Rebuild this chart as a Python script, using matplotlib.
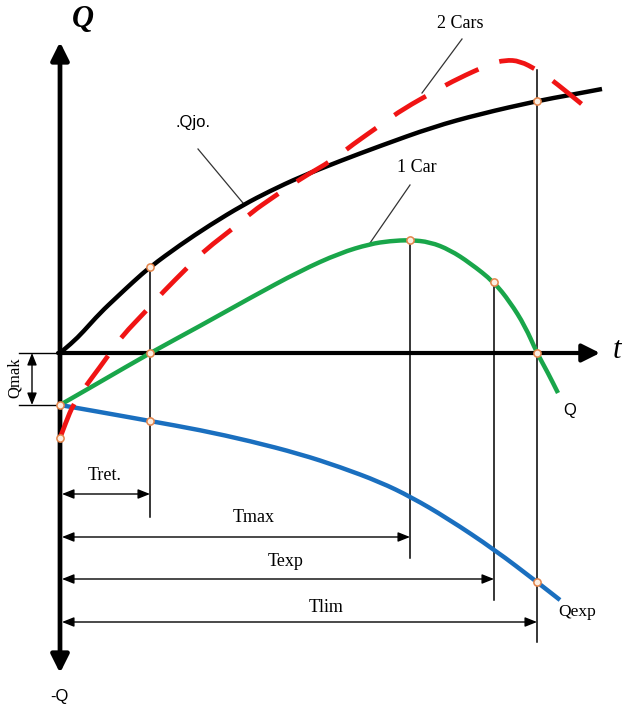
import matplotlib
matplotlib.use("Agg")
import matplotlib.pyplot as plt
from matplotlib.patches import FancyArrowPatch, PathPatch
from matplotlib.path import Path

plt.rcParams['lines.scale_dashes'] = False

# ---------------- data (schematic units, origin at axis crossing) ----------------
qjo_x = [0, 12, 23, 40, 57, 73, 90, 120, 150, 183, 210, 240, 280, 320, 373, 420, 477, 510, 542]
qjo_y = [0, 10, 21, 40, 56, 71, 86, 108, 128, 148, 162, 176, 192, 207, 226, 239, 252, 258, 264]

cars2_x = [0, 6, 13, 25, 40, 50, 62, 87, 102, 128, 145, 175, 192, 212, 240, 273, 292, 322, 343,
           377, 397, 430, 445, 460, 477, 488, 507, 535]
cars2_y = [-85, -69, -52, -34, -14, 0, 17, 43, 60, 86, 103, 126, 141, 155, 174, 193, 208, 229, 244,
           263, 274, 289, 293, 292, 283, 276, 261, 238]

car1_x = [0, 40, 90, 140, 190, 240, 280, 310, 330, 350, 370, 390, 410, 434, 450, 465, 477, 488, 498]
car1_y = [-52, -29, 0, 27, 55, 82, 100, 109, 112, 113, 111, 103, 90, 71, 51, 27, 0, -20, -40]

qexp_x = [0, 40, 90, 140, 190, 240, 280, 320, 351, 387, 435, 477, 500]
qexp_y = [-52, -59, -68, -77, -88, -101, -114, -129, -144, -165, -197, -229, -247]

key_x = [90, 90, 90, 0, 0, 350, 434, 477, 477, 477]
key_y = [86, 0, -68, -52, -85, 113, 71, 0, 252, -229]

t_names = ["Tret.", "Tmax", "Texp", "Tlim"]
t_vals = [90, 350, 434, 477]
t_line_top = [86, 113, 71, 283]
t_line_bot = [-164, -205, -247, -289]
t_arrow_y = [-141, -184, -226, -269]
t_label_pos = [(45, -123), (194, -165), (226, -209), (266, -255)]

q_mak = -52

# ---------------- figure ----------------
fig = plt.figure(figsize=(6.27, 7.09), dpi=100)
ax = fig.add_axes([0, 0, 1, 1])
ax.set_xlim(-60, 567)
ax.set_ylim(-356, 353)
ax.axis('off')

serif = 'Liberation Serif'
sans = 'Liberation Sans'


def arrow(p0, p1, style, lw, ms, color='black', z=3):
    a = FancyArrowPatch(p0, p1, arrowstyle=style, lw=lw, color=color,
                        mutation_scale=ms, shrinkA=0, shrinkB=0, zorder=z)
    ax.add_patch(a)


def smooth_curve(xs, ys, **kw):
    # quadratic Bezier through the read points (points act as control points)
    verts = [(xs[0], ys[0])]
    codes = [Path.MOVETO]
    n = len(xs)
    for i in range(1, n - 1):
        verts.append((xs[i], ys[i]))
        verts.append(((xs[i] + xs[i + 1]) / 2, (ys[i] + ys[i + 1]) / 2))
        codes += [Path.CURVE3, Path.CURVE3]
    verts.append((xs[-1], ys[-1]))
    codes.append(Path.LINETO)
    p = PathPatch(Path(verts, codes), facecolor='none', **kw)
    ax.add_patch(p)


# main axes
big = '-|>,head_length=0.4,head_width=0.2'
arrow((0, 0), (0, 311), big, 3.4, 27)
arrow((0, 0), (0, -320), big, 3.4, 27)
arrow((-2, 0), (540, 0), big, 3.0, 27)

# vertical reference lines and time dimension arrows
small = '<|-|>,head_length=0.45,head_width=0.18'
for name, tv, top, bot, ay, lp in zip(t_names, t_vals, t_line_top, t_line_bot, t_arrow_y, t_label_pos):
    ax.plot([tv, tv], [top, bot], color='black', lw=1.1, zorder=2)
    arrow((2, ay), (tv, ay), small, 1.0, 16)
    ax.text(lp[0], lp[1], name, family=serif, fontsize=13, ha='center', va='center', zorder=5)

# Qmak dimension
ax.plot([-41, 0], [0, 0], color='black', lw=1.0, zorder=2)
ax.plot([-41, 0], [q_mak, q_mak], color='black', lw=1.0, zorder=2)
arrow((-28, 0), (-28, q_mak), small, 1.0, 16)
ax.text(-45, -25, "Qmak", family=serif, fontsize=12, rotation=90, ha='center', va='center')

# curves
smooth_curve(qjo_x, qjo_y, edgecolor='black', lw=3.2, capstyle='butt', zorder=4)
smooth_curve(car1_x, car1_y, edgecolor='#19a64a', lw=3.2, capstyle='butt', zorder=4)
smooth_curve(qexp_x, qexp_y, edgecolor='#1a6fbf', lw=3.2, capstyle='butt', zorder=4)
smooth_curve(cars2_x, cars2_y, edgecolor='#f01414', lw=3.4, linestyle=(0, (26.5, 16)),
             capstyle='butt', zorder=5)

# key points
ax.plot(key_x, key_y, linestyle='none', marker='o', markersize=5.2,
        markerfacecolor='#fbeee2', markeredgecolor='#e4844a', markeredgewidth=1.1, zorder=6)

# leader lines and labels
ax.plot([402, 362], [314, 260], color='#333333', lw=0.9, zorder=3)
ax.text(400, 330, "2 Cars", family=serif, fontsize=13, ha='center', va='center')
ax.plot([350, 310], [168, 110], color='#333333', lw=0.9, zorder=3)
ax.text(357, 185, "1 Car", family=serif, fontsize=13, ha='center', va='center')
ax.plot([138, 183], [204, 150], color='#333333', lw=0.9, zorder=3)
ax.text(133, 230, ".Qjo.", family=sans, fontsize=12, ha='center', va='center')

ax.text(510, -57, "Q", family=sans, fontsize=12, ha='center', va='center')
ax.text(498, -259, "Qexp", family=serif, fontsize=12.5, ha='left', va='center')
ax.text(-1, -344, "-Q", family=sans, fontsize=12, ha='center', va='center')
ax.text(553, 2, "t", family=serif, style='italic', fontsize=22, ha='left', va='center')
ax.text(23, 334, "Q", family=serif, style='italic', fontweight='bold', fontsize=22,
        ha='center', va='center')

fig.savefig("out.png", dpi=100, facecolor='white')
